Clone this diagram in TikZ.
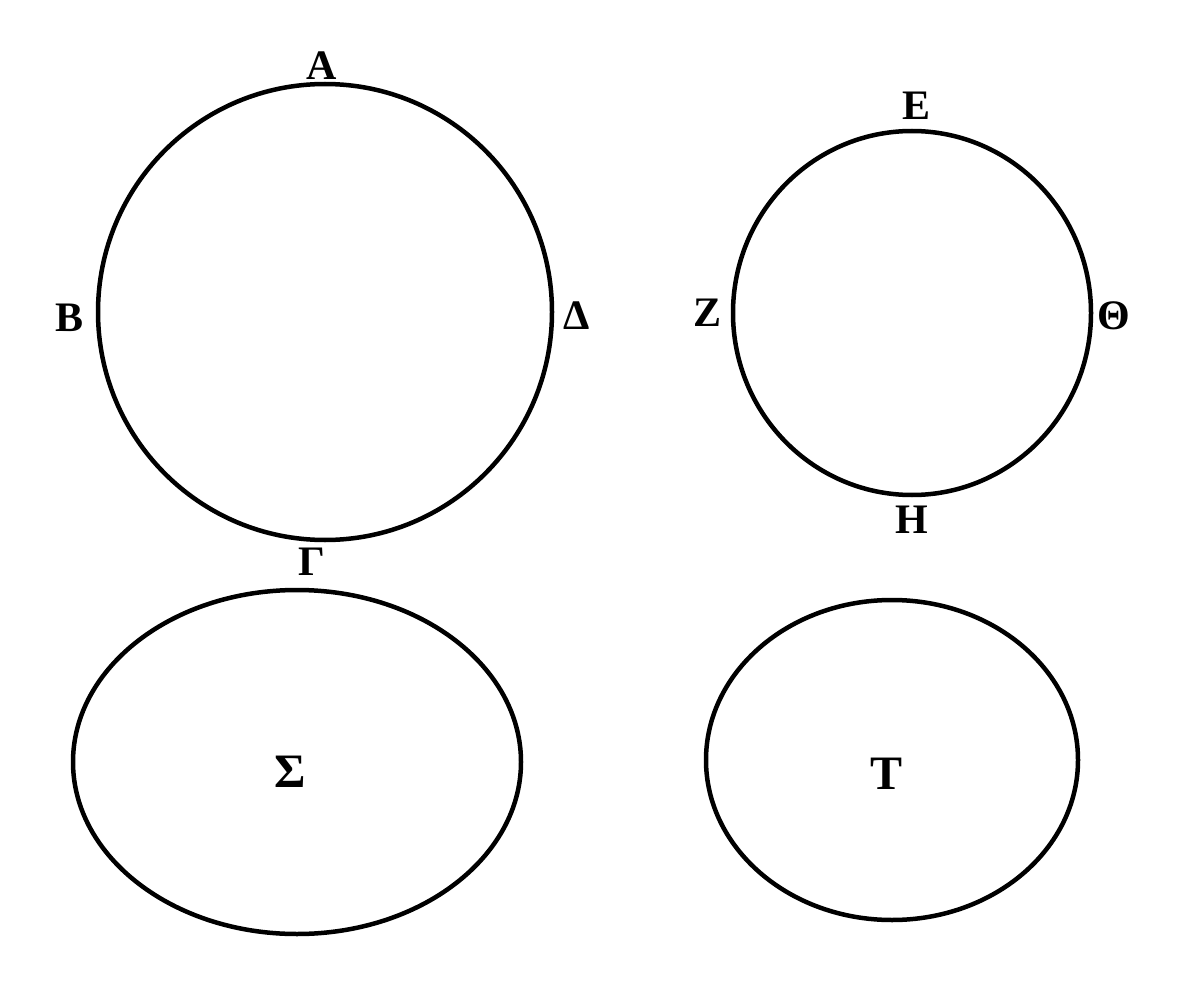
\documentclass[tikz,border=0pt]{standalone}
\usepackage{fontspec}
\setmainfont{Liberation Serif}
\begin{document}
\begin{tikzpicture}[x=1pt,y=-1pt,
  curve/.style={draw=black,line width=4.5pt},
  lbl/.style={font=\fontsize{42}{44}\selectfont\bfseries,inner sep=0pt,anchor=center},
  biglbl/.style={lbl,font=\fontsize{48}{50}\selectfont\bfseries}]
\useasboundingbox[fill=white] (0,0) rectangle (1183,1008);
% circle ABGD
\draw[curve] (325,312) ellipse [x radius=227,y radius=228];
\node[lbl] (A) at (322,66) {Α};
\node[lbl] (B) at (70,318) {Β};
\node[lbl] (D) at (577,316) {Δ};
\node[lbl] (G) at (312,562) {Γ};
% circle EZH Theta
\draw[curve] (912,313) ellipse [x radius=179,y radius=182];
\node[lbl] (E) at (916,106) {Ε};
\node[lbl] (Z) at (707,313) {Ζ};
\node[lbl] (Th) at (1114,316) {Θ};
\node[lbl] (H) at (912,520) {Η};
% ellipse Sigma
\draw[curve] (297,762) ellipse [x radius=224,y radius=172];
\node[biglbl] (S) at (290,772) {Σ};
% ellipse T
\draw[curve] (892,760) ellipse [x radius=186,y radius=160];
\node[biglbl] (T) at (886,774) {Τ};
\end{tikzpicture}
\end{document}
